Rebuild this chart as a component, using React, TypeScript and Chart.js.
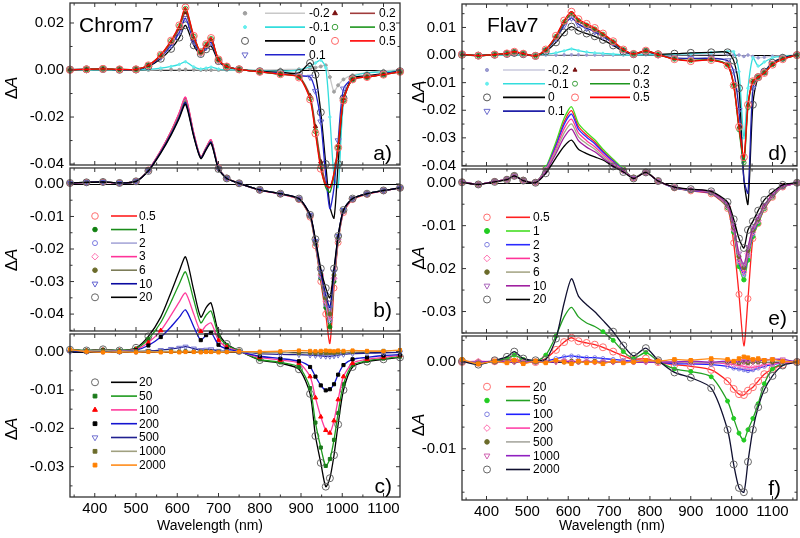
import React, { useEffect, useRef } from "react";
import { Chart, registerables } from "chart.js";
Chart.register(...registerables);

const FONT = "'Liberation Sans', Arial, Helvetica, sans-serif";
const OFF = 30;
const CANVAS_H = 600;

const X_MAJOR = [400, 500, 600, 700, 800, 900, 1000, 1100];
const X_MINOR = [350, 450, 550, 650, 750, 850, 950, 1050, 1150];

// ---------- Chrom7 (left column) ----------
const WL_C = [340, 380, 420, 460, 500, 530, 560, 585, 605, 620, 640, 657, 670, 682, 700, 720, 750, 800, 850, 895, 922, 935, 948, 960, 970, 980, 990, 1003, 1025, 1060, 1100, 1140];

const A_LABELS = ["-0.2", "-0.1", "0", "0.1", "0.2", "0.3", "0.5"];
const A_M02 = [0, 0, 0.0002, 0, 0.0001, 0, 0.0001, 0.0002, 0.0001, 0.0002, 0.0001, 0, 0.0001, 0, 0, 0, 0, 0, 0.0002, 0.0003, 0.0006, 0.001, 0.0015, 0.002, -0.003, -0.0092, -0.0065, -0.004, -0.0022, -0.0012, -0.0003, 0];
const A_M01 = [0, 0, 0.0001, 0, 0.0001, 0.0003, 0.0008, 0.0015, 0.0024, 0.0035, 0.0013, 0.0004, 0.0008, 0.0012, 0.0004, 0.0001, 0, -0.0003, -0.0005, 0, 0.0015, 0.003, 0.0042, 0.001, -0.02, -0.045, -0.05, -0.014, -0.003, -0.0012, -0.0008, -0.0003];
const A_0 = [0.0002, 0.0003, 0.0004, 0.0001, 0.0002, 0.0015, 0.0048, 0.009, 0.0138, 0.019, 0.0105, 0.0068, 0.0088, 0.0102, 0.0038, 0.0013, 0.0003, -0.0005, -0.001, -0.0012, 0.003, -0.002, -0.018, -0.04, -0.058, -0.063, -0.04, -0.012, -0.0035, -0.0025, -0.0015, -0.0005];
const A_01 = [0.0001, 0.0003, 0.0004, 0.0002, 0.0002, 0.0017, 0.0055, 0.0105, 0.016, 0.022, 0.012, 0.0072, 0.0097, 0.0118, 0.0042, 0.0014, 0.0003, -0.0008, -0.0015, -0.0025, -0.003, -0.009, -0.022, -0.045, -0.059, -0.05, -0.03, -0.008, -0.0038, -0.0028, -0.0016, -0.0006];
const A_02 = [0.0002, 0.0003, 0.0005, 0.0002, 0.0003, 0.0019, 0.006, 0.0117, 0.0177, 0.0245, 0.0134, 0.0075, 0.0104, 0.0128, 0.0044, 0.0015, 0.0003, -0.0008, -0.0017, -0.0028, -0.011, -0.024, -0.039, -0.048, -0.05, -0.044, -0.032, -0.012, -0.004, -0.003, -0.0019, -0.0008];
const A_03 = [0.0001, 0.0003, 0.0005, 0.0003, 0.0003, 0.002, 0.0064, 0.0123, 0.0186, 0.026, 0.0142, 0.0076, 0.0108, 0.0132, 0.0045, 0.0015, 0.0003, -0.0008, -0.0018, -0.003, -0.012, -0.026, -0.041, -0.05, -0.052, -0.045, -0.033, -0.013, -0.004, -0.003, -0.002, -0.0008];
const A_05 = [0, 0.0003, 0.0005, 0.0003, 0.0003, 0.002, 0.0065, 0.0125, 0.019, 0.0266, 0.0145, 0.0077, 0.011, 0.0136, 0.0045, 0.0015, 0.0003, -0.0008, -0.0018, -0.0032, -0.0125, -0.027, -0.042, -0.049, -0.05, -0.044, -0.033, -0.013, -0.004, -0.003, -0.002, -0.0008];

const B_LABELS = ["0.5", "1", "2", "3", "6", "10", "20"];
const B_05 = [0.0002, 0.0005, 0.0006, 0.0003, 0.0008, 0.0043, 0.0102, 0.0162, 0.0218, 0.0265, 0.0155, 0.0083, 0.0112, 0.0135, 0.005, 0.0018, 0.0002, -0.0019, -0.0031, -0.0048, -0.0102, -0.019, -0.03, -0.04, -0.049, -0.032, -0.018, -0.0088, -0.0048, -0.0032, -0.0021, -0.0012];
const B_1 = [0.0003, 0.0005, 0.0006, 0.0003, 0.0008, 0.0042, 0.0101, 0.016, 0.0215, 0.026, 0.0153, 0.0082, 0.011, 0.0133, 0.0049, 0.0018, 0.0002, -0.0018, -0.003, -0.0047, -0.01, -0.0185, -0.029, -0.038, -0.044, -0.03, -0.0175, -0.0085, -0.0046, -0.003, -0.002, -0.0012];
const B_2 = [0.0003, 0.0004, 0.0006, 0.0003, 0.0008, 0.0042, 0.01, 0.0158, 0.0213, 0.0258, 0.0152, 0.0081, 0.011, 0.0132, 0.0049, 0.0018, 0.0002, -0.0018, -0.003, -0.0046, -0.0098, -0.0182, -0.0285, -0.037, -0.042, -0.029, -0.017, -0.0084, -0.0046, -0.003, -0.002, -0.0012];
const B_3 = [0.0002, 0.0005, 0.0005, 0.0003, 0.0008, 0.0043, 0.0103, 0.0162, 0.022, 0.0267, 0.0157, 0.0083, 0.0112, 0.0136, 0.005, 0.0018, 0.0002, -0.0019, -0.0031, -0.0047, -0.0098, -0.018, -0.028, -0.036, -0.041, -0.029, -0.017, -0.0085, -0.0047, -0.003, -0.0021, -0.0012];
const B_6 = [0.0003, 0.0005, 0.0006, 0.0003, 0.0008, 0.0042, 0.0099, 0.0156, 0.021, 0.0255, 0.015, 0.0081, 0.0109, 0.013, 0.0048, 0.0018, 0.0002, -0.0018, -0.003, -0.0046, -0.0097, -0.018, -0.0275, -0.035, -0.04, -0.028, -0.0165, -0.0082, -0.0045, -0.003, -0.002, -0.0012];
const B_10 = [0.0003, 0.0005, 0.0006, 0.0003, 0.0008, 0.0041, 0.0097, 0.0153, 0.0206, 0.025, 0.0148, 0.008, 0.0107, 0.0128, 0.0047, 0.0017, 0.0002, -0.0018, -0.003, -0.0045, -0.0095, -0.0175, -0.027, -0.034, -0.038, -0.027, -0.016, -0.008, -0.0045, -0.003, -0.002, -0.0012];
const B_20 = [0.0003, 0.0005, 0.0006, 0.0003, 0.0008, 0.004, 0.0095, 0.015, 0.0202, 0.0245, 0.0145, 0.0078, 0.0105, 0.0125, 0.0046, 0.0017, 0.0002, -0.0018, -0.003, -0.0045, -0.0095, -0.017, -0.026, -0.032, -0.035, -0.026, -0.016, -0.008, -0.0045, -0.003, -0.002, -0.0012];

const C_LABELS = ["20", "50", "100", "200", "500", "1000", "2000"];
const C_20 = [0.0005, 0.0003, 0.0006, 0.0003, 0.001, 0.004, 0.009, 0.0155, 0.021, 0.0247, 0.016, 0.009, 0.0115, 0.0127, 0.005, 0.002, 0.0002, -0.0022, -0.003, -0.0046, -0.011, -0.022, -0.029, -0.0352, -0.033, -0.027, -0.019, -0.01, -0.004, -0.0026, -0.002, -0.0015];
const C_50 = [0.0004, 0.0003, 0.0005, 0.0003, 0.0008, 0.0033, 0.0076, 0.013, 0.0177, 0.0208, 0.0135, 0.0075, 0.0095, 0.0106, 0.0042, 0.0017, 0.0002, -0.002, -0.0028, -0.004, -0.0095, -0.0185, -0.025, -0.0298, -0.028, -0.023, -0.016, -0.0085, -0.0035, -0.0024, -0.0018, -0.0013];
const C_100 = [0.0003, 0.0002, 0.0004, 0.0002, 0.0006, 0.0024, 0.0055, 0.0095, 0.013, 0.0153, 0.0098, 0.0053, 0.0068, 0.0075, 0.003, 0.0012, 0.0001, -0.0015, -0.0022, -0.003, -0.0065, -0.012, -0.017, -0.0205, -0.0212, -0.018, -0.0125, -0.0065, -0.003, -0.002, -0.0015, -0.001];
const C_200 = [0.0002, 0.0001, 0.0003, 0.0001, 0.0004, 0.0016, 0.0038, 0.0065, 0.009, 0.0109, 0.0065, 0.003, 0.0043, 0.0049, 0.0018, 0.0007, 0, -0.0012, -0.0018, -0.0025, -0.004, -0.0065, -0.0088, -0.0101, -0.0098, -0.0085, -0.006, -0.0035, -0.002, -0.0015, -0.001, -0.0008];
const C_500 = [0, 0, 0, 0, 0, 0.0002, 0.0004, 0.0007, 0.001, 0.0013, 0.0008, 0.0004, 0.0005, 0.0006, 0.0002, 0.0001, 0, -0.0005, -0.0007, -0.0008, -0.0009, -0.001, -0.0011, -0.0012, -0.0012, -0.0011, -0.0009, -0.0007, -0.0005, -0.0004, -0.0003, -0.0002];
const C_1000 = [0.0004, 0.0002, 0.0003, 0.0001, 0.0002, 0.0001, 0, 0.0001, 0, 0.0001, 0, 0, 0.0001, 0, 0, 0, 0, -0.0003, -0.0002, -0.0004, -0.0003, -0.0004, -0.0003, -0.0004, -0.0003, -0.0003, -0.0002, -0.0002, -0.0001, 0, 0.0002, 0.0003];
const C_2000 = [0.0006, 0, -0.0002, -0.0001, -0.0002, -0.0001, -0.0002, -0.0001, -0.0002, -0.0001, -0.0001, -0.0002, -0.0001, -0.0001, -0.0002, -0.0001, 0, 0, 0.0001, 0.0003, 0.0002, 0.0001, 0.0002, 0.0003, 0.0002, 0.0001, 0.0003, 0.0002, 0.0003, 0.0002, 0.0001, 0.0004];

// ---------- Flav7 (right column) ----------
const WL_F = [340, 380, 420, 450, 468, 490, 520, 545, 570, 590, 608, 625, 645, 665, 685, 710, 735, 760, 790, 820, 860, 900, 950, 990, 1005, 1018, 1030, 1040, 1052, 1065, 1080, 1100, 1125, 1160];

const D_LABELS = ["-0.2", "-0.1", "0", "0.1", "0.2", "0.3", "0.5"];
const D_M02 = [0, 0, 0, 0, 0, 0, 0, 0, 0, 0.0001, 0.0001, 0.0001, 0, 0, 0, 0, 0, 0, 0.0001, 0, 0, 0.0001, 0.0002, 0.0002, 0.0001, 0, -0.0005, 0, -0.0005, -0.001, -0.0008, -0.0004, -0.0002, 0];
const D_M01 = [0, 0, 0, 0, 0.0001, 0, 0, 0.0003, 0.0008, 0.0015, 0.0022, 0.0016, 0.0011, 0.0008, 0.0006, 0.0003, 0.0001, 0, 0.0002, 0.0001, 0.0003, 0.0005, 0.0009, 0.0013, 0.0012, -0.006, -0.03, -0.012, -0.001, -0.004, -0.0025, -0.001, -0.0004, 0];
const D_0 = [0.0001, -0.0002, 0.0001, 0.0004, 0.0008, 0.0003, -0.0003, 0.0013, 0.0046, 0.0082, 0.0103, 0.0088, 0.0078, 0.0068, 0.0055, 0.0035, 0.0013, 0.0003, 0.0012, 0.0003, 0.0005, 0.0008, 0.001, 0.001, -0.002, -0.012, -0.045, -0.054, -0.018, -0.008, -0.006, -0.0028, -0.001, 0];
const D_01 = [0.0002, -0.0002, 0.0002, 0.0005, 0.001, 0.0004, -0.0003, 0.0017, 0.006, 0.0108, 0.0135, 0.0112, 0.0097, 0.0085, 0.0067, 0.0043, 0.0017, 0.0003, 0.0014, 0.0001, -0.001, -0.0012, -0.0012, -0.002, -0.006, -0.02, -0.045, -0.05, -0.012, -0.008, -0.006, -0.003, -0.0012, 0];
const D_02 = [0.0002, -0.0002, 0.0002, 0.0006, 0.0011, 0.0005, -0.0003, 0.0019, 0.0066, 0.0118, 0.0147, 0.0122, 0.0106, 0.0092, 0.0073, 0.0047, 0.0019, 0.0004, 0.0015, 0.0002, -0.0014, -0.002, -0.0017, -0.0036, -0.0105, -0.026, -0.038, -0.018, -0.0095, -0.008, -0.0064, -0.0034, -0.0014, 0];
const D_03 = [0.0002, -0.0002, 0.0002, 0.0006, 0.0011, 0.0005, -0.0003, 0.0019, 0.0067, 0.012, 0.015, 0.0125, 0.0108, 0.0094, 0.0075, 0.0048, 0.0019, 0.0004, 0.0015, 0.0002, -0.0014, -0.002, -0.0017, -0.0036, -0.011, -0.027, -0.039, -0.019, -0.0095, -0.008, -0.0063, -0.0034, -0.0014, 0];
const D_05 = [0.0003, -0.0002, 0.0002, 0.0006, 0.0012, 0.0005, -0.0003, 0.002, 0.007, 0.0125, 0.0157, 0.013, 0.0113, 0.0098, 0.0078, 0.005, 0.002, 0.0004, 0.0016, 0.0002, -0.0015, -0.0022, -0.0018, -0.0038, -0.011, -0.026, -0.037, -0.018, -0.0095, -0.008, -0.0065, -0.0035, -0.0015, 0];

const E_LABELS = ["0.5", "1", "2", "3", "6", "10", "20"];
const E_05 = [0.0002, -0.0004, 0.0003, 0.0008, 0.0016, 0.0006, 0.0001, 0.0033, 0.009, 0.0142, 0.0168, 0.0131, 0.0111, 0.0095, 0.0074, 0.0052, 0.003, 0.0011, 0.0024, 0.0004, -0.0012, -0.0019, -0.0026, -0.006, -0.014, -0.026, -0.038, -0.027, -0.013, -0.0095, -0.0062, -0.0034, -0.001, 0];
const E_1 = [0.0002, -0.0004, 0.0003, 0.0008, 0.0017, 0.0006, 0.0001, 0.0035, 0.0095, 0.015, 0.0177, 0.0138, 0.0117, 0.01, 0.0078, 0.0055, 0.0032, 0.0012, 0.0025, 0.0004, -0.0012, -0.0018, -0.0024, -0.0058, -0.0115, -0.0195, -0.0226, -0.018, -0.0125, -0.0095, -0.006, -0.0033, -0.001, 0];
const E_2 = [0.0002, -0.0004, 0.0003, 0.0008, 0.0016, 0.0006, 0.0001, 0.0032, 0.0086, 0.0136, 0.016, 0.0125, 0.0106, 0.0091, 0.0071, 0.005, 0.003, 0.0011, 0.0024, 0.0004, -0.0012, -0.0018, -0.0024, -0.0056, -0.011, -0.0185, -0.0215, -0.017, -0.012, -0.009, -0.0058, -0.0032, -0.001, 0];
const E_3 = [0.0002, -0.0004, 0.0003, 0.0008, 0.0016, 0.0006, 0.0001, 0.003, 0.008, 0.0126, 0.0148, 0.0116, 0.0098, 0.0084, 0.0066, 0.0047, 0.0029, 0.0011, 0.0024, 0.0004, -0.0011, -0.0017, -0.0023, -0.0055, -0.0108, -0.018, -0.0208, -0.0165, -0.0115, -0.0088, -0.0057, -0.0031, -0.001, 0];
const E_6 = [0.0002, -0.0004, 0.0003, 0.0008, 0.0016, 0.0006, 0.0001, 0.0028, 0.0074, 0.0116, 0.0137, 0.0107, 0.0091, 0.0078, 0.0061, 0.0044, 0.0028, 0.0011, 0.0024, 0.0004, -0.0011, -0.0017, -0.0022, -0.0053, -0.0104, -0.0172, -0.0198, -0.0158, -0.011, -0.0085, -0.0055, -0.003, -0.0009, 0];
const E_10 = [0.0002, -0.0004, 0.0003, 0.0008, 0.0016, 0.0005, 0.0001, 0.0026, 0.0068, 0.0106, 0.0125, 0.0098, 0.0083, 0.0072, 0.0057, 0.0041, 0.0027, 0.0011, 0.0024, 0.0004, -0.0011, -0.0016, -0.0021, -0.0051, -0.01, -0.0165, -0.019, -0.015, -0.0105, -0.008, -0.0052, -0.0028, -0.0008, 0];
const E_20 = [0.0001, -0.0004, 0.0002, 0.0007, 0.0016, 0.0005, 0, 0.0022, 0.0058, 0.0085, 0.0099, 0.0078, 0.0068, 0.006, 0.0053, 0.0038, 0.0025, 0.001, 0.0024, 0.0004, -0.001, -0.0015, -0.002, -0.0045, -0.0085, -0.013, -0.0152, -0.011, -0.009, -0.0065, -0.004, -0.0022, -0.0005, 0];

const F_LABELS = ["20", "50", "100", "200", "500", "1000", "2000"];
const F_20 = [0, -0.0001, 0.0001, 0.0002, 0.0003, 0.0001, 0, 0.0004, 0.0014, 0.0023, 0.0028, 0.0024, 0.0022, 0.002, 0.0017, 0.0012, 0.0007, 0.0003, 0.0004, 0, -0.0003, -0.0005, -0.0009, -0.0022, -0.0031, -0.0037, -0.0038, -0.0033, -0.0029, -0.0022, -0.0014, -0.0008, -0.0003, 0];
const F_50 = [0.0001, -0.0002, 0.0001, 0.0004, 0.0008, 0.0003, 0.0001, 0.0008, 0.003, 0.0052, 0.0063, 0.0052, 0.0045, 0.0041, 0.0035, 0.0025, 0.0012, 0.0004, 0.0011, 0.0001, -0.0008, -0.0011, -0.0017, -0.0045, -0.0065, -0.0082, -0.009, -0.0078, -0.0065, -0.0048, -0.0025, -0.0008, -0.0002, 0];
const F_100 = [0, 0, 0, 0.0001, 0.0001, 0, 0, 0.0001, 0.0004, 0.0006, 0.0007, 0.0006, 0.0005, 0.0005, 0.0004, 0.0003, 0.0002, 0.0001, 0.0001, 0, -0.0002, -0.0002, -0.0003, -0.0005, -0.0007, -0.0008, -0.0009, -0.001, -0.0009, -0.0007, -0.0005, -0.0003, -0.0001, 0];
const F_200 = [0, 0.0001, 0, 0, 0.0001, 0, 0, 0, 0.0001, 0.0001, 0.0001, 0, 0.0001, 0, 0, 0, 0, 0, 0, 0, 0, -0.0001, -0.0001, -0.0002, -0.0003, -0.0004, -0.0005, -0.0006, -0.0006, -0.0005, -0.0003, -0.0002, -0.0001, 0];
const F_500 = [0.0001, 0, 0, 0.0001, 0, 0, 0, 0, 0.0001, 0, 0.0001, 0, 0, 0.0001, 0, 0, 0, 0, 0.0001, 0, 0, 0, -0.0001, 0, 0, -0.0001, 0, -0.0001, 0, 0, 0, 0, 0.0001, 0];
const F_1000 = [0, 0, 0.0001, 0, 0, 0, 0, 0, 0, 0.0001, 0, 0.0001, 0, 0, 0, 0, 0, 0, 0, 0, 0, 0.0001, 0, 0.0001, 0, 0.0001, 0.0001, 0.0002, 0.0001, 0.0002, 0.0002, 0.0003, 0.0003, 0];
const F_2000 = [0.0001, -0.0003, 0.0002, 0.0006, 0.0012, 0.0004, 0.0002, 0.0003, 0.0027, 0.0068, 0.0096, 0.0076, 0.0066, 0.0058, 0.0048, 0.0035, 0.0019, 0.0007, 0.0016, 0.0002, -0.0012, -0.0018, -0.003, -0.0078, -0.0118, -0.0145, -0.015, -0.0115, -0.0078, -0.0052, -0.0032, -0.0016, -0.0004, 0];
const F_EXTRA = [0.0003, -0.0002, 0.0001, -0.0001, 0.0002, -0.0002, 0.0001, -0.0001, 0.0002, 0, -0.0002, 0.0001, -0.0001, 0, -0.0002, 0.0001, -0.0001, 0, 0.0002, 0.0001, 0.0003, 0.0002, 0.0004, 0.0003, 0.0001, 0.0004, 0.0006, 0.0005, 0.0003, 0.0004, 0.0002, 0.0003, 0.0001, 0];

type Series = {
  label: string; data: number[]; line: string; marker: string; style: string;
  filled: boolean; r: number; legend: boolean;
};
function S(label: string, data: number[], line: string, marker: string, style: string, filled: boolean, r: number, legend = true): Series {
  return { label, data, line, marker, style, filled, r, legend };
}

type LegendCol = { mx: number; lx1: number; lx2: number; tx: number; y0: number; dy: number; idx: number[] };
type Panel = {
  key: string; tag: string; tagX: number; tagY: number; cx: number; cw: number;
  left: number; right: number; top: number; bottom: number;
  xMin: number; xMax: number; yMin: number; yMax: number; yStep: number; yMinor: number;
  showX: boolean; wl: number[]; series: Series[]; legend: LegendCol[];
  name?: string; nameX?: number; dA: [number, number]; titleX?: number;
};

const L_CX = 0, L_CW = 430, R_CX = 400, R_CW = 420;

const PANELS: Panel[] = [
  {
    key: "a", tag: "a)", tagX: 392, tagY: 160, cx: L_CX, cw: L_CW, left: 70, right: 400, top: 3, bottom: 165,
    xMin: 340, xMax: 1140, yMin: -0.0404, yMax: 0.0285, yStep: 0.02, yMinor: 0.01, showX: false, wl: WL_C,
    series: [
      S(A_LABELS[0], A_M02, "#c8c8c8", "#a0a0a0", "circle", true, 1.5),
      S(A_LABELS[1], A_M01, "#33dddd", "#66eeee", "circle", true, 1.2),
      S(A_LABELS[2], A_0, "#000000", "#555555", "circle", false, 3.5),
      S(A_LABELS[3], A_01, "#2222cc", "#6a6acc", "triangleDown", false, 3.5),
      S(A_LABELS[4], A_02, "#a03c3c", "#7a1010", "triangle", true, 2.5),
      S(A_LABELS[5], A_03, "#1e961e", "#3aa03a", "circle", false, 2.5),
      S(A_LABELS[6], A_05, "#ff0000", "#ff6666", "circle", false, 3.5),
    ],
    legend: [
      { mx: 245, lx1: 265, lx2: 305, tx: 309, y0: 13.3, dy: 13.8, idx: [0, 1, 2, 3] },
      { mx: 335, lx1: 350, lx2: 375, tx: 379, y0: 13.3, dy: 13.8, idx: [4, 5, 6] },
    ],
    name: "Chrom7", nameX: 79, dA: [12, 88],
  },
  {
    key: "b", tag: "b)", tagX: 392, tagY: 317, cx: L_CX, cw: L_CW, left: 70, right: 400, top: 168, bottom: 331,
    xMin: 340, xMax: 1140, yMin: -0.0452, yMax: 0.0049, yStep: 0.01, yMinor: 0.005, showX: false, wl: WL_C,
    series: [
      S(B_LABELS[0], B_05, "#ff2020", "#ff7070", "circle", false, 3),
      S(B_LABELS[1], B_1, "#1a8c1a", "#108010", "circle", true, 2),
      S(B_LABELS[2], B_2, "#a8a8d8", "#7a7ae0", "circle", false, 2.2),
      S(B_LABELS[3], B_3, "#ff3399", "#ff70b0", "rectRot", false, 3),
      S(B_LABELS[4], B_6, "#7c7c58", "#6b6b2a", "circle", true, 2),
      S(B_LABELS[5], B_10, "#0a0aa0", "#6060d0", "triangleDown", false, 3),
      S(B_LABELS[6], B_20, "#000000", "#666666", "circle", false, 3.5),
    ],
    legend: [{ mx: 95, lx1: 111, lx2: 137, tx: 139, y0: 216, dy: 13.55, idx: [0, 1, 2, 3, 4, 5, 6] }],
    dA: [12, 260],
  },
  {
    key: "c", tag: "c)", tagX: 392, tagY: 493, cx: L_CX, cw: L_CW, left: 70, right: 400, top: 334, bottom: 497,
    xMin: 340, xMax: 1140, yMin: -0.0379, yMax: 0.0046, yStep: 0.01, yMinor: 0.005, showX: true, wl: WL_C,
    series: [
      S(C_LABELS[0], C_20, "#000000", "#666666", "circle", false, 3.5),
      S(C_LABELS[1], C_50, "#1e9a1e", "#1a7a1a", "rect", true, 2.2),
      S(C_LABELS[2], C_100, "#ff3c9c", "#ff0000", "triangle", true, 2.5),
      S(C_LABELS[3], C_200, "#1414d0", "#000000", "rect", true, 2.2),
      S(C_LABELS[4], C_500, "#202090", "#7070d0", "triangleDown", false, 3),
      S(C_LABELS[5], C_1000, "#a0a080", "#6b6b2a", "rect", true, 2.2),
      S(C_LABELS[6], C_2000, "#ff8c1a", "#ff8000", "rect", true, 2.2),
    ],
    legend: [{ mx: 95, lx1: 111, lx2: 137, tx: 139, y0: 382.3, dy: 13.8, idx: [0, 1, 2, 3, 4, 5, 6] }],
    dA: [12, 429], titleX: 210,
  },
  {
    key: "d", tag: "d)", tagX: 787, tagY: 160, cx: R_CX, cw: R_CW, left: 462, right: 797, top: 4, bottom: 166,
    xMin: 340, xMax: 1160, yMin: -0.0402, yMax: 0.0185, yStep: 0.01, yMinor: 0.005, showX: false, wl: WL_F,
    series: [
      S(D_LABELS[0], D_M02, "#c8c8dc", "#9a9ad0", "circle", true, 1.3),
      S(D_LABELS[1], D_M01, "#33dddd", "#66eeee", "circle", true, 1.2),
      S(D_LABELS[2], D_0, "#000000", "#555555", "circle", false, 3.5),
      S(D_LABELS[3], D_01, "#2020a8", "#6a6acc", "triangleDown", false, 3.5),
      S(D_LABELS[4], D_02, "#a03030", "#7a1010", "triangle", true, 2),
      S(D_LABELS[5], D_03, "#1e961e", "#3aa03a", "circle", false, 2.2),
      S(D_LABELS[6], D_05, "#ff0000", "#ff6666", "circle", false, 3.5),
    ],
    legend: [
      { mx: 487, lx1: 503, lx2: 545, tx: 548, y0: 70, dy: 13.7, idx: [0, 1, 2, 3] },
      { mx: 575, lx1: 590, lx2: 630, tx: 633, y0: 70, dy: 13.7, idx: [4, 5, 6] },
    ],
    name: "Flav7", nameX: 487, dA: [419, 92],
  },
  {
    key: "e", tag: "e)", tagX: 787, tagY: 325, cx: R_CX, cw: R_CW, left: 462, right: 797, top: 169, bottom: 333,
    xMin: 340, xMax: 1160, yMin: -0.035, yMax: 0.0032, yStep: 0.01, yMinor: 0.005, showX: false, wl: WL_F,
    series: [
      S(E_LABELS[0], E_05, "#ff2020", "#ff7070", "circle", false, 3),
      S(E_LABELS[1], E_1, "#44dd22", "#22cc22", "circle", true, 2.2),
      S(E_LABELS[2], E_2, "#2a2aff", "#8080e0", "circle", false, 2),
      S(E_LABELS[3], E_3, "#ff3399", "#ff70b0", "rectRot", false, 3),
      S(E_LABELS[4], E_6, "#a8a888", "#6b6b2a", "circle", true, 2),
      S(E_LABELS[5], E_10, "#a020a0", "#aa66bb", "triangleDown", false, 3),
      S(E_LABELS[6], E_20, "#000000", "#666666", "circle", false, 3.5),
    ],
    legend: [{ mx: 487, lx1: 506, lx2: 530, tx: 533, y0: 217.3, dy: 13.7, idx: [0, 1, 2, 3, 4, 5, 6] }],
    dA: [419, 258],
  },
  {
    key: "f", tag: "f)", tagX: 781, tagY: 495, cx: R_CX, cw: R_CW, left: 462, right: 797, top: 336, bottom: 500,
    xMin: 340, xMax: 1160, yMin: -0.0159, yMax: 0.003, yStep: 0.01, yMinor: 0.0025, showX: true, wl: WL_F,
    series: [
      S(F_LABELS[0], F_20, "#ff2020", "#ff7070", "circle", false, 3.5),
      S(F_LABELS[1], F_50, "#22a022", "#22cc22", "circle", true, 2),
      S(F_LABELS[2], F_100, "#2020ff", "#8080e0", "circle", false, 2),
      S(F_LABELS[3], F_200, "#ff44aa", "#ff70b0", "rectRot", false, 3),
      S(F_LABELS[4], F_500, "#a8a8a0", "#6b6b2a", "circle", true, 2),
      S(F_LABELS[5], F_1000, "#9020c0", "#d060b0", "triangleDown", false, 3),
      S(F_LABELS[6], F_2000, "#101030", "#666666", "circle", false, 3.5),
      S("", F_EXTRA, "#ff8c1a", "#ff8000", "rect", true, 2.5, false),
    ],
    legend: [{ mx: 487, lx1: 506, lx2: 530, tx: 533, y0: 386.7, dy: 13.8, idx: [0, 1, 2, 3, 4, 5, 6] }],
    dA: [419, 425], titleX: 612,
  },
];

function drawMarker(ctx: CanvasRenderingContext2D, style: string, x: number, y: number, r: number, stroke: string, fill: boolean) {
  ctx.beginPath();
  if (style === "circle") {
    ctx.arc(x, y, r, 0, Math.PI * 2);
  } else if (style === "triangle") {
    ctx.moveTo(x, y - r); ctx.lineTo(x + r * 0.87, y + r * 0.5); ctx.lineTo(x - r * 0.87, y + r * 0.5); ctx.closePath();
  } else if (style === "triangleDown") {
    ctx.moveTo(x, y + r); ctx.lineTo(x + r * 0.87, y - r * 0.5); ctx.lineTo(x - r * 0.87, y - r * 0.5); ctx.closePath();
  } else if (style === "rect") {
    const s = r * 0.75; ctx.rect(x - s, y - s, 2 * s, 2 * s);
  } else if (style === "rectRot") {
    ctx.moveTo(x, y - r); ctx.lineTo(x + r, y); ctx.lineTo(x, y + r); ctx.lineTo(x - r, y); ctx.closePath();
  }
  if (fill) { ctx.fillStyle = stroke; ctx.fill(); }
  ctx.strokeStyle = stroke; ctx.lineWidth = 1; ctx.stroke();
}

function makeDecor(p: Panel) {
  return {
    id: "decor-" + p.key,
    beforeDatasetsDraw(chart: any) {
      const { ctx, chartArea: a } = chart;
      const y0 = Math.round(chart.scales.y.getPixelForValue(0)) + 0.5;
      ctx.save();
      ctx.strokeStyle = "#000"; ctx.lineWidth = 1;
      ctx.beginPath(); ctx.moveTo(a.left, y0); ctx.lineTo(a.right, y0); ctx.stroke();
      ctx.restore();
    },
    afterDraw(chart: any) {
      const { ctx, chartArea: a } = chart;
      const xs = chart.scales.x, ys = chart.scales.y;
      ctx.save();
      ctx.strokeStyle = "#333"; ctx.lineWidth = 1.3;
      ctx.strokeRect(a.left, a.top, a.right - a.left, a.bottom - a.top);
      ctx.lineWidth = 1; ctx.strokeStyle = "#333";
      ctx.beginPath();
      const xt = (v: number, len: number) => {
        const x = xs.getPixelForValue(v);
        ctx.moveTo(x, a.bottom); ctx.lineTo(x, a.bottom - len);
        ctx.moveTo(x, a.top); ctx.lineTo(x, a.top + len);
      };
      X_MAJOR.forEach((v) => xt(v, 4));
      X_MINOR.filter((v) => v > p.xMin && v < p.xMax).forEach((v) => xt(v, 2.5));
      const k0 = Math.ceil(p.yMin / p.yMinor - 1e-6);
      const k1 = Math.floor(p.yMax / p.yMinor + 1e-6);
      for (let k = k0; k <= k1; k++) {
        const v = k * p.yMinor;
        const q = v / p.yStep;
        const major = Math.abs(q - Math.round(q)) < 1e-6;
        const len = major ? 4 : 2.5;
        const y = ys.getPixelForValue(v);
        ctx.moveTo(a.left, y); ctx.lineTo(a.left + len, y);
        ctx.moveTo(a.right, y); ctx.lineTo(a.right - len, y);
      }
      ctx.stroke();

      // legend
      ctx.font = `12px ${FONT}`;
      ctx.textBaseline = "middle";
      ctx.textAlign = "left";
      p.legend.forEach((col) => {
        col.idx.forEach((si, row) => {
          const s = p.series[si];
          const y = col.y0 + row * col.dy + OFF;
          drawMarker(ctx, s.style, col.mx - p.cx, y, Math.min(s.r + 0.3, 3.5), s.marker, s.filled);
          ctx.strokeStyle = s.line; ctx.lineWidth = 1.6;
          ctx.beginPath(); ctx.moveTo(col.lx1 - p.cx, y); ctx.lineTo(col.lx2 - p.cx, y); ctx.stroke();
          ctx.fillStyle = "#000";
          ctx.fillText(s.label, col.tx - p.cx, y + 0.5);
        });
      });

      // panel tag
      ctx.fillStyle = "#000";
      ctx.font = `21px ${FONT}`;
      ctx.textBaseline = "alphabetic";
      ctx.textAlign = "right";
      ctx.fillText(p.tag, p.tagX - p.cx, p.tagY + OFF);
      if (p.name) {
        ctx.textAlign = "left";
        ctx.fillText(p.name, (p.nameX as number) - p.cx, 32 + OFF);
      }
      // y title (ΔA)
      ctx.save();
      ctx.translate(p.dA[0] - p.cx, p.dA[1] + OFF);
      ctx.rotate(-Math.PI / 2);
      ctx.textBaseline = "middle";
      ctx.textAlign = "left";
      ctx.font = `17px ${FONT}`;
      const w1 = ctx.measureText("\u0394").width;
      ctx.font = `italic 17px ${FONT}`;
      const w2 = ctx.measureText("A").width;
      const sx = -(w1 + w2) / 2;
      ctx.font = `17px ${FONT}`;
      ctx.fillText("\u0394", sx, 0);
      ctx.font = `italic 17px ${FONT}`;
      ctx.fillText("A", sx + w1, 0);
      ctx.restore();
      // x title
      if (p.showX && p.titleX) {
        ctx.font = `14px ${FONT}`;
        ctx.textAlign = "center";
        ctx.textBaseline = "middle";
        ctx.fillText("Wavelength (nm)", p.titleX - p.cx, 526 + OFF);
      }
      ctx.restore();
    },
  };
}

function fmtY(v: number) {
  if (Math.abs(v) < 1e-9) return "0.00";
  return v.toFixed(2);
}

function buildConfig(p: Panel): any {
  const n = p.series.length;
  const datasets = p.series.map((s, i) => ({
    label: s.label,
    data: p.wl.map((x, j) => ({ x, y: s.data[j] })),
    borderColor: s.line,
    borderWidth: 1.3,
    backgroundColor: s.marker,
    pointStyle: s.style === "triangleDown" ? "triangle" : s.style,
    pointRotation: s.style === "triangleDown" ? 180 : 0,
    pointRadius: s.r,
    pointBorderColor: s.marker,
    pointBackgroundColor: s.filled ? s.marker : "rgba(0,0,0,0)",
    pointBorderWidth: 1,
    tension: 0.25,
    clip: false,
    fill: false,
    order: n - i,
  }));
  const xScale: any = {
    type: "linear",
    min: p.xMin,
    max: p.xMax,
    display: p.showX,
    grid: { display: false, drawTicks: false },
    border: { display: false },
    afterBuildTicks: (s: any) => {
      s.ticks = X_MAJOR.filter((v) => v >= p.xMin && v <= p.xMax).map((v) => ({ value: v }));
    },
    ticks: {
      autoSkip: false,
      maxRotation: 0,
      padding: 3,
      color: "#000",
      font: { family: FONT, size: 15 },
      callback: (v: number) => String(v),
    },
  };
  if (p.showX) {
    xScale.afterFit = (s: any) => { s.height = CANVAS_H - (p.bottom + OFF); };
  }
  return {
    type: "line",
    data: { datasets },
    options: {
      responsive: false,
      animation: false,
      devicePixelRatio: 1,
      events: [],
      layout: {
        padding: {
          top: p.top + OFF,
          bottom: p.showX ? 0 : CANVAS_H - (p.bottom + OFF),
          left: 0,
          right: p.cx + p.cw - p.right,
        },
      },
      plugins: { legend: { display: false }, tooltip: { enabled: false }, title: { display: false } },
      scales: {
        x: xScale,
        y: {
          type: "linear",
          min: p.yMin,
          max: p.yMax,
          grid: { display: false, drawTicks: false },
          border: { display: false },
          ticks: {
            stepSize: p.yStep,
            includeBounds: false,
            padding: 6,
            color: "#000",
            font: { family: FONT, size: 15 },
            callback: (v: number) => fmtY(v),
          },
          afterFit: (s: any) => { s.width = p.left - p.cx; },
        },
      },
    },
    plugins: [makeDecor(p)],
  };
}

function PanelChart({ p }: { p: Panel }) {
  const ref = useRef<HTMLCanvasElement | null>(null);
  useEffect(() => {
    if (!ref.current) return;
    const chart = new Chart(ref.current, buildConfig(p));
    return () => chart.destroy();
  }, [p]);
  return (
    <canvas
      ref={ref}
      width={p.cw}
      height={CANVAS_H}
      style={{ position: "absolute", left: p.cx, top: -OFF, width: p.cw, height: CANVAS_H }}
    />
  );
}

export default function App() {
  return (
    <div style={{ position: "absolute", left: 0, top: 0, width: 800, height: 538, overflow: "hidden", background: "#fff" }}>
      {PANELS.map((p) => (
        <PanelChart key={p.key} p={p} />
      ))}
    </div>
  );
}
